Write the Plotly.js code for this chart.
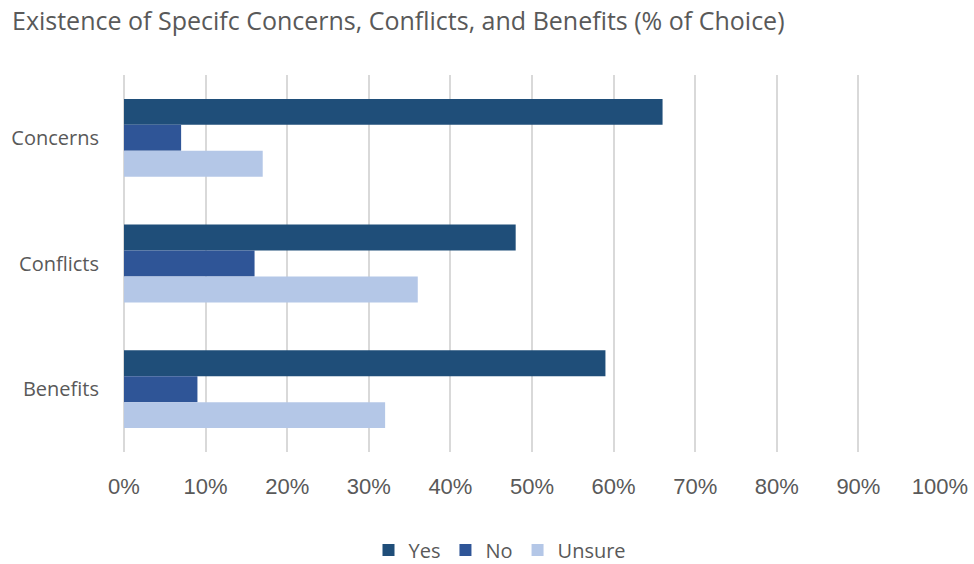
<!DOCTYPE html>
<html>
<head>
<meta charset="utf-8">
<script src="https://cdn.plot.ly/plotly-3.0.1.min.js"></script>
<style>html,body{margin:0;padding:0;background:#fff;}#chart{width:974px;height:564px;}</style>
</head>
<body>
<div id="chart"></div>
<script>
const categories = ["Concerns", "Conflicts", "Benefits"];
const yesValues = [0.66, 0.48, 0.59];
const noValues = [0.07, 0.16, 0.09];
const unsureValues = [0.17, 0.36, 0.32];
const seriesNames = ["Yes", "No", "Unsure"];
const xTickVals = [0, 0.1, 0.2, 0.3, 0.4, 0.5, 0.6, 0.7, 0.8, 0.9, 1.0];

const colors = ["#1F4E79", "#2F5597", "#B4C7E7"];
const series = [yesValues, noValues, unsureValues];

const data = series.map((vals, i) => ({
  type: "bar",
  orientation: "h",
  name: seriesNames[i],
  y: categories,
  x: vals,
  marker: {color: colors[i]},
  hoverinfo: "none"
}));

const layout = {
  width: 974,
  height: 564,
  paper_bgcolor: "#ffffff",
  plot_bgcolor: "#ffffff",
  margin: {l: 124, r: 34, t: 75, b: 112},
  barmode: "group",
  bargap: 0.38,
  bargroupgap: 0,
  title: {
    text: "Existence of Specifc Concerns, Conflicts, and Benefits (% of Choice)",
    font: {family: "Open Sans, sans-serif", size: 25, color: "#595959"},
    x: 12 / 974, xanchor: "left", xref: "container",
    y: 1 - 21 / 564, yanchor: "middle", yref: "container"
  },
  xaxis: {
    range: [0, 1],
    tickvals: xTickVals,
    tickformat: ".0%",
    showgrid: true,
    gridcolor: "#D9D9D9",
    gridwidth: 2,
    zeroline: true,
    zerolinecolor: "#D9D9D9",
    zerolinewidth: 2,
    showline: false,
    ticks: "outside",
    ticklen: 15,
    tickcolor: "rgba(0,0,0,0)",
    tickfont: {family: "Liberation Sans, Arial, sans-serif", size: 22, color: "#595959"},
    fixedrange: true
  },
  yaxis: {
    type: "category",
    categoryorder: "array",
    categoryarray: categories,
    autorange: "reversed",
    showgrid: false,
    zeroline: false,
    showline: false,
    ticks: "outside",
    ticklen: 20,
    tickcolor: "rgba(0,0,0,0)",
    tickfont: {family: "Open Sans, sans-serif", size: 20, color: "#595959"},
    fixedrange: true
  },
  showlegend: true,
  legend: {
    orientation: "h",
    xref: "container", yref: "container",
    x: 500 / 974, xanchor: "center",
    y: 1 - 550 / 564, yanchor: "middle",
    font: {family: "Open Sans, sans-serif", size: 20, color: "#595959"},
    traceorder: "normal",
    itemwidth: 30,
    bgcolor: "rgba(0,0,0,0)"
  }
};

Plotly.newPlot("chart", data, layout, {displayModeBar: false, staticPlot: true});
</script>
</body>
</html>
